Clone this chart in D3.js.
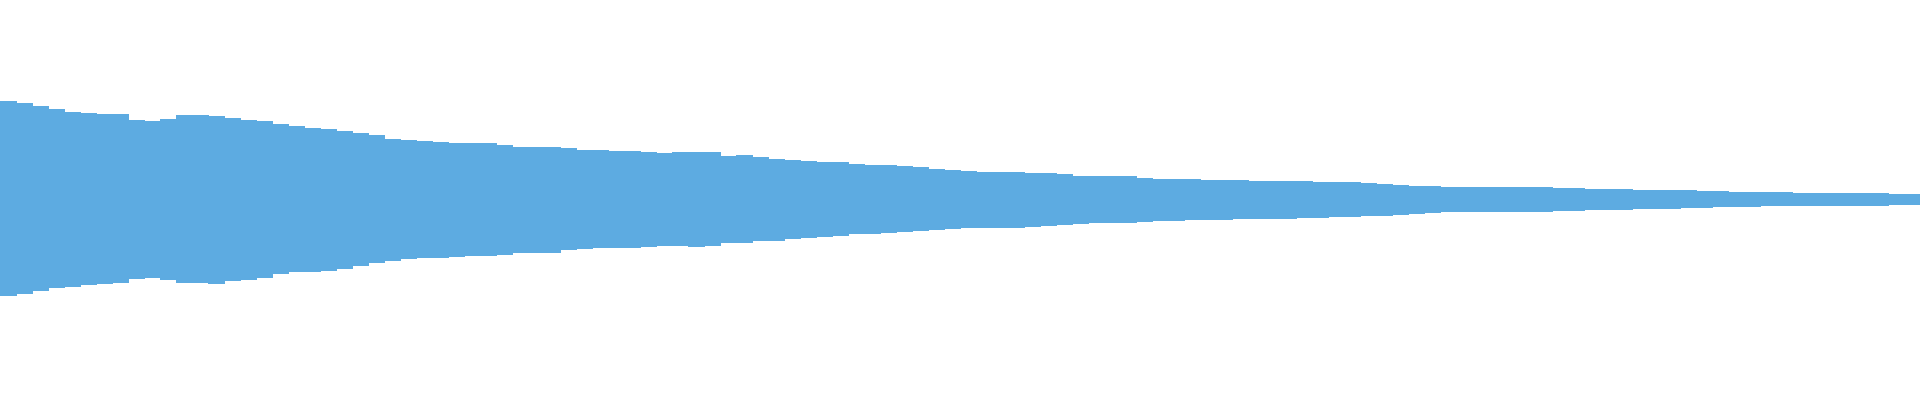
<!DOCTYPE html>
<html>
<head>
<meta charset="utf-8">
<script src="https://cdn.jsdelivr.net/npm/d3@7"></script>
<style>
  html, body { margin: 0; padding: 0; background: #ffffff; }
  svg { display: block; }
</style>
</head>
<body>
<svg id="chart" width="1920" height="400"></svg>
<script>
// Peak (max) amplitude per time bucket, normalised to [-1, 1]
const upper = [
  0.495, 0.485, 0.470, 0.455, 0.440, 0.433, 0.430, 0.428, 0.400, 0.395,
  0.405, 0.425, 0.425, 0.420, 0.408, 0.400, 0.393, 0.378, 0.368, 0.362,
  0.357, 0.345, 0.337, 0.324, 0.307, 0.298, 0.293, 0.288, 0.285, 0.283,
  0.283, 0.275, 0.267, 0.267, 0.267, 0.258, 0.248, 0.249, 0.245, 0.245,
  0.241, 0.234, 0.239, 0.242, 0.239, 0.222, 0.225, 0.214, 0.207, 0.202,
  0.197, 0.191, 0.188, 0.182, 0.177, 0.174, 0.169, 0.163, 0.157, 0.151,
  0.144, 0.142, 0.141, 0.140, 0.137, 0.133, 0.128, 0.122, 0.122, 0.122,
  0.120, 0.110, 0.107, 0.105, 0.103, 0.100, 0.100, 0.098, 0.097, 0.096,
  0.097, 0.097, 0.090, 0.089, 0.089, 0.086, 0.082, 0.076, 0.070, 0.068,
  0.066, 0.066, 0.066, 0.066, 0.065, 0.064, 0.063, 0.061, 0.059, 0.057,
  0.054, 0.053, 0.052, 0.051, 0.050, 0.048, 0.046, 0.043, 0.041, 0.040,
  0.039, 0.038, 0.037, 0.036, 0.035, 0.035, 0.034, 0.033, 0.032, 0.031
];
// Trough (min) amplitude per time bucket
const lower = [
  -0.480, -0.470, -0.455, -0.440, -0.433, -0.425, -0.420, -0.413, -0.395, -0.390,
  -0.400, -0.415, -0.415, -0.420, -0.405, -0.400, -0.388, -0.370, -0.362, -0.360,
  -0.353, -0.344, -0.332, -0.317, -0.305, -0.295, -0.290, -0.288, -0.284, -0.280,
  -0.279, -0.273, -0.264, -0.264, -0.264, -0.250, -0.243, -0.242, -0.242, -0.241,
  -0.233, -0.229, -0.231, -0.234, -0.230, -0.217, -0.214, -0.207, -0.204, -0.194,
  -0.190, -0.185, -0.179, -0.172, -0.168, -0.164, -0.160, -0.157, -0.151, -0.147,
  -0.140, -0.139, -0.139, -0.138, -0.135, -0.132, -0.123, -0.119, -0.117, -0.115,
  -0.114, -0.108, -0.105, -0.104, -0.102, -0.100, -0.099, -0.097, -0.095, -0.094,
  -0.094, -0.091, -0.088, -0.086, -0.084, -0.082, -0.078, -0.073, -0.070, -0.065,
  -0.059, -0.059, -0.059, -0.059, -0.059, -0.059, -0.058, -0.056, -0.054, -0.052,
  -0.050, -0.048, -0.046, -0.044, -0.043, -0.042, -0.038, -0.034, -0.033, -0.033,
  -0.032, -0.032, -0.031, -0.031, -0.031, -0.030, -0.030, -0.029, -0.027, -0.026
];

const W = 1920, H = 400;
const n = Math.min(upper.length, lower.length);
const idx = d3.range(n);

const x = d3.scaleBand().domain(idx).range([0, W]).paddingInner(0).paddingOuter(0);
const y = d3.scaleLinear().domain([-1, 1]).range([H, 0]);

const svg = d3.select("#chart");
svg.append("g")
  .selectAll("rect")
  .data(idx)
  .join("rect")
  .attr("x", i => x(i))
  .attr("width", x.bandwidth() + 0.5)
  .attr("y", i => y(upper[i]))
  .attr("height", i => y(lower[i]) - y(upper[i]))
  .attr("fill", "#5dabe1")
  .attr("shape-rendering", "crispEdges");
</script>
</body>
</html>
